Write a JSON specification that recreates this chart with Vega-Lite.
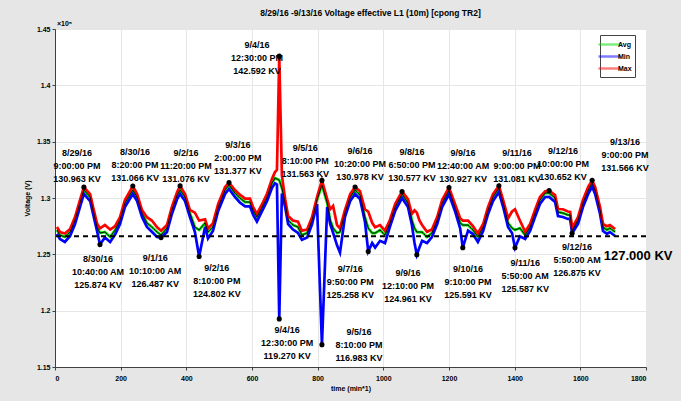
{
  "$schema": "https://vega.github.io/schema/vega-lite/v6.json",
  "width": 591,
  "height": 338,
  "autosize": "none",
  "padding": {"left": 55, "top": 29, "right": 35, "bottom": 34},
  "background": "#e6e6e6",
  "config": {
    "font": "Liberation Sans",
    "view": {"fill": "white", "stroke": null},
    "axis": {"domainColor": "#404040", "tickColor": "#404040", "gridColor": "#e6e6e6", "labelFontSize": 7, "labelFontWeight": "bold", "labelColor": "#000", "titleFontSize": 7, "titleFontWeight": "bold", "titleColor": "#000", "tickSize": 3}
  },
  "title": {"text": "8/29/16 -9/13/16  Voltage effective L1 (10m) [cpong TR2]", "fontSize": 8.5, "fontWeight": "bold", "dx": 20, "offset": 3, "color": "#000"},
  "datasets": {
    "series": [
      {"x":6,"Avg":1.2716,"Min":1.2681,"Max":1.2743},
      {"x":15,"Avg":1.2671,"Min":1.2636,"Max":1.2698},
      {"x":30,"Avg":1.2654,"Min":1.2610,"Max":1.2685},
      {"x":46,"Avg":1.2698,"Min":1.2663,"Max":1.2725},
      {"x":61,"Avg":1.2804,"Min":1.2769,"Max":1.2831},
      {"x":76,"Avg":1.2955,"Min":1.2920,"Max":1.2982},
      {"x":88,"Avg":1.3071,"Min":1.3036,"Max":1.30963},
      {"x":107,"Avg":1.3008,"Min":1.2973,"Max":1.3035},
      {"x":116,"Avg":1.2893,"Min":1.2858,"Max":1.2920},
      {"x":128,"Avg":1.2742,"Min":1.2707,"Max":1.2775},
      {"x":137,"Avg":1.2689,"Min":1.25874,"Max":1.2730},
      {"x":152,"Avg":1.2698,"Min":1.2650,"Max":1.2760},
      {"x":168,"Avg":1.2654,"Min":1.2610,"Max":1.2720},
      {"x":183,"Avg":1.2716,"Min":1.2675,"Max":1.2750},
      {"x":198,"Avg":1.2804,"Min":1.2769,"Max":1.2831},
      {"x":213,"Avg":1.2955,"Min":1.2920,"Max":1.2982},
      {"x":237,"Avg":1.3071,"Min":1.3036,"Max":1.31066},
      {"x":250,"Avg":1.3008,"Min":1.2973,"Max":1.3035},
      {"x":265,"Avg":1.2866,"Min":1.2831,"Max":1.2893},
      {"x":280,"Avg":1.2778,"Min":1.2743,"Max":1.2830},
      {"x":295,"Avg":1.2742,"Min":1.2700,"Max":1.2800},
      {"x":311,"Avg":1.2698,"Min":1.2655,"Max":1.2740},
      {"x":323,"Avg":1.2671,"Min":1.26487,"Max":1.2710},
      {"x":341,"Avg":1.2733,"Min":1.2698,"Max":1.2760},
      {"x":356,"Avg":1.2893,"Min":1.2858,"Max":1.2920},
      {"x":372,"Avg":1.3026,"Min":1.2991,"Max":1.3053},
      {"x":381,"Avg":1.3071,"Min":1.3036,"Max":1.31076},
      {"x":396,"Avg":1.3008,"Min":1.2973,"Max":1.3035},
      {"x":411,"Avg":1.2866,"Min":1.2831,"Max":1.2893},
      {"x":426,"Avg":1.2742,"Min":1.2700,"Max":1.2870},
      {"x":439,"Avg":1.2716,"Min":1.24802,"Max":1.2800},
      {"x":457,"Avg":1.2778,"Min":1.2743,"Max":1.2810},
      {"x":466,"Avg":1.2698,"Min":1.2640,"Max":1.2730},
      {"x":481,"Avg":1.2742,"Min":1.2707,"Max":1.2775},
      {"x":497,"Avg":1.2920,"Min":1.2885,"Max":1.2947},
      {"x":518,"Avg":1.3071,"Min":1.3036,"Max":1.3098},
      {"x":530,"Avg":1.3115,"Min":1.3080,"Max":1.31377},
      {"x":548,"Avg":1.3044,"Min":1.3009,"Max":1.3071},
      {"x":563,"Avg":1.3000,"Min":1.2960,"Max":1.3030},
      {"x":579,"Avg":1.2964,"Min":1.2925,"Max":1.2995},
      {"x":594,"Avg":1.2964,"Min":1.2925,"Max":1.2995},
      {"x":603,"Avg":1.2893,"Min":1.2855,"Max":1.2920},
      {"x":615,"Avg":1.2831,"Min":1.2790,"Max":1.2858},
      {"x":631,"Avg":1.2920,"Min":1.2885,"Max":1.2947},
      {"x":646,"Avg":1.3008,"Min":1.2973,"Max":1.3040},
      {"x":661,"Avg":1.3133,"Min":1.3090,"Max":1.3170},
      {"x":670,"Avg":1.3177,"Min":1.3130,"Max":1.3230},
      {"x":676,"Avg":1.3168,"Min":1.3120,"Max":1.3250},
      {"x":683,"Avg":1.3159,"Min":1.1927,"Max":1.42592},
      {"x":691,"Avg":1.3088,"Min":1.3040,"Max":1.3200},
      {"x":701,"Avg":1.2955,"Min":1.2920,"Max":1.2990},
      {"x":710,"Avg":1.2804,"Min":1.2769,"Max":1.2840},
      {"x":725,"Avg":1.2760,"Min":1.2720,"Max":1.2800},
      {"x":740,"Avg":1.2742,"Min":1.2690,"Max":1.2790},
      {"x":752,"Avg":1.2671,"Min":1.2630,"Max":1.2710},
      {"x":768,"Avg":1.2689,"Min":1.2650,"Max":1.2720},
      {"x":783,"Avg":1.2804,"Min":1.2769,"Max":1.2831},
      {"x":798,"Avg":1.2982,"Min":1.2947,"Max":1.3009},
      {"x":813,"Avg":1.3115,"Min":1.16983,"Max":1.31563},
      {"x":829,"Avg":1.2955,"Min":1.2920,"Max":1.2990},
      {"x":838,"Avg":1.2804,"Min":1.2769,"Max":1.2900},
      {"x":847,"Avg":1.2733,"Min":1.2690,"Max":1.2930},
      {"x":859,"Avg":1.2689,"Min":1.2580,"Max":1.2760},
      {"x":868,"Avg":1.2698,"Min":1.2515,"Max":1.2730},
      {"x":883,"Avg":1.2866,"Min":1.2831,"Max":1.2893},
      {"x":899,"Avg":1.3008,"Min":1.2973,"Max":1.3035},
      {"x":914,"Avg":1.3071,"Min":1.3036,"Max":1.30978},
      {"x":929,"Avg":1.3026,"Min":1.2991,"Max":1.3060},
      {"x":944,"Avg":1.2831,"Min":1.2790,"Max":1.2900},
      {"x":954,"Avg":1.2733,"Min":1.25258,"Max":1.2880},
      {"x":966,"Avg":1.2689,"Min":1.2600,"Max":1.2780},
      {"x":975,"Avg":1.2689,"Min":1.2560,"Max":1.2740},
      {"x":990,"Avg":1.2716,"Min":1.2620,"Max":1.2760},
      {"x":1005,"Avg":1.2671,"Min":1.2600,"Max":1.2710},
      {"x":1020,"Avg":1.2778,"Min":1.2743,"Max":1.2805},
      {"x":1036,"Avg":1.2920,"Min":1.2885,"Max":1.2947},
      {"x":1057,"Avg":1.3035,"Min":1.3000,"Max":1.30577},
      {"x":1075,"Avg":1.2955,"Min":1.2920,"Max":1.2990},
      {"x":1087,"Avg":1.2804,"Min":1.2760,"Max":1.2860},
      {"x":1095,"Avg":1.2733,"Min":1.2600,"Max":1.2890},
      {"x":1102,"Avg":1.2698,"Min":1.24961,"Max":1.2870},
      {"x":1110,"Avg":1.2698,"Min":1.2560,"Max":1.2800},
      {"x":1118,"Avg":1.2698,"Min":1.2620,"Max":1.2760},
      {"x":1133,"Avg":1.2654,"Min":1.2600,"Max":1.2700},
      {"x":1148,"Avg":1.2689,"Min":1.2654,"Max":1.2720},
      {"x":1164,"Avg":1.2804,"Min":1.2769,"Max":1.2831},
      {"x":1179,"Avg":1.2955,"Min":1.2920,"Max":1.2982},
      {"x":1200,"Avg":1.3068,"Min":1.3033,"Max":1.30927},
      {"x":1218,"Avg":1.2920,"Min":1.2885,"Max":1.2950},
      {"x":1234,"Avg":1.2778,"Min":1.2730,"Max":1.2820},
      {"x":1242,"Avg":1.2760,"Min":1.25591,"Max":1.2800},
      {"x":1258,"Avg":1.2760,"Min":1.2710,"Max":1.2800},
      {"x":1273,"Avg":1.2716,"Min":1.2680,"Max":1.2750},
      {"x":1288,"Avg":1.2654,"Min":1.2610,"Max":1.2685},
      {"x":1304,"Avg":1.2742,"Min":1.2707,"Max":1.2769},
      {"x":1319,"Avg":1.2893,"Min":1.2858,"Max":1.2920},
      {"x":1334,"Avg":1.3008,"Min":1.2973,"Max":1.3035},
      {"x":1352,"Avg":1.3088,"Min":1.3053,"Max":1.31081},
      {"x":1365,"Avg":1.2955,"Min":1.2920,"Max":1.2982},
      {"x":1380,"Avg":1.2778,"Min":1.2740,"Max":1.2820},
      {"x":1392,"Avg":1.2733,"Min":1.2690,"Max":1.2880},
      {"x":1401,"Avg":1.2716,"Min":1.25587,"Max":1.2900},
      {"x":1416,"Avg":1.2733,"Min":1.2660,"Max":1.2800},
      {"x":1432,"Avg":1.2671,"Min":1.2636,"Max":1.2700},
      {"x":1447,"Avg":1.2742,"Min":1.2707,"Max":1.2769},
      {"x":1462,"Avg":1.2866,"Min":1.2831,"Max":1.2893},
      {"x":1477,"Avg":1.2982,"Min":1.2947,"Max":1.3009},
      {"x":1493,"Avg":1.3044,"Min":1.3009,"Max":1.3060},
      {"x":1505,"Avg":1.3045,"Min":1.3010,"Max":1.30652},
      {"x":1523,"Avg":1.3000,"Min":1.2965,"Max":1.3027},
      {"x":1532,"Avg":1.2875,"Min":1.2840,"Max":1.2902},
      {"x":1547,"Avg":1.2866,"Min":1.2831,"Max":1.2900},
      {"x":1562,"Avg":1.2849,"Min":1.2814,"Max":1.2880},
      {"x":1569,"Avg":1.2849,"Min":1.2814,"Max":1.2876},
      {"x":1575,"Avg":1.2707,"Min":1.26875,"Max":1.2734},
      {"x":1593,"Avg":1.2804,"Min":1.2769,"Max":1.2831},
      {"x":1608,"Avg":1.2955,"Min":1.2920,"Max":1.2982},
      {"x":1624,"Avg":1.3071,"Min":1.3036,"Max":1.3098},
      {"x":1636,"Avg":1.3135,"Min":1.3100,"Max":1.31566},
      {"x":1645,"Avg":1.3071,"Min":1.3036,"Max":1.3098},
      {"x":1660,"Avg":1.2893,"Min":1.2858,"Max":1.2920},
      {"x":1669,"Avg":1.2742,"Min":1.2707,"Max":1.2769},
      {"x":1681,"Avg":1.2716,"Min":1.2681,"Max":1.2750},
      {"x":1690,"Avg":1.2733,"Min":1.2698,"Max":1.2760},
      {"x":1706,"Avg":1.2698,"Min":1.2663,"Max":1.2725}
    ],
    "dots": [
      {"x":88,"v":1.30963},{"x":237,"v":1.31066},{"x":381,"v":1.31076},{"x":530,"v":1.31377},
      {"x":683,"v":1.42592},{"x":813,"v":1.31563},{"x":914,"v":1.30978},{"x":1057,"v":1.30577},
      {"x":1200,"v":1.30927},{"x":1352,"v":1.31081},{"x":1505,"v":1.30652},{"x":1636,"v":1.31566},
      {"x":137,"v":1.25874},{"x":323,"v":1.26487},{"x":439,"v":1.24802},{"x":683,"v":1.1927},
      {"x":813,"v":1.16983},{"x":954,"v":1.25258},{"x":1102,"v":1.24961},{"x":1242,"v":1.25591},
      {"x":1401,"v":1.25587},{"x":1575,"v":1.26875}
    ],
    "labels": [
      {"x":67,"y":1.3434,"t":"8/29/16|9:00:00 PM|130.963 KV"},
      {"x":244,"y":1.3443,"t":"8/30/16|8:20:00 PM|131.066 KV"},
      {"x":399,"y":1.3434,"t":"9/2/16|11:20:00 PM|131.076 KV"},
      {"x":557,"y":1.3505,"t":"9/3/16|2:00:00 PM|131.377 KV"},
      {"x":615,"y":1.4393,"t":"9/4/16|12:30:00 PM|142.592 KV"},
      {"x":762,"y":1.3479,"t":"9/5/16|8:10:00 PM|131.563 KV"},
      {"x":929,"y":1.3452,"t":"9/6/16|10:20:00 PM|130.978 KV"},
      {"x":1087,"y":1.3443,"t":"9/8/16|6:50:00 PM|130.577 KV"},
      {"x":1243,"y":1.3434,"t":"9/9/16|12:40:00 AM|130.927 KV"},
      {"x":1407,"y":1.3434,"t":"9/11/16|9:00:00 PM|131.081 KV"},
      {"x":1547,"y":1.3452,"t":"9/12/16|10:00:00 PM|130.652 KV"},
      {"x":1736,"y":1.3532,"t":"9/13/16|9:00:00 PM|131.566 KV"},
      {"x":131,"y":1.2494,"t":"8/30/16|10:40:00 AM|125.874 KV"},
      {"x":305,"y":1.2503,"t":"9/1/16|10:10:00 AM|126.487 KV"},
      {"x":493,"y":1.2414,"t":"9/2/16|8:10:00 PM|124.802 KV"},
      {"x":707,"y":1.1864,"t":"9/4/16|12:30:00 PM|119.270 KV"},
      {"x":926,"y":1.1846,"t":"9/5/16|8:10:00 PM|116.983 KV"},
      {"x":899,"y":1.2405,"t":"9/7/16|9:50:00 PM|125.258 KV"},
      {"x":1075,"y":1.2370,"t":"9/9/16|12:10:00 PM|124.961 KV"},
      {"x":1258,"y":1.2405,"t":"9/10/16|9:10:00 PM|125.591 KV"},
      {"x":1432,"y":1.2458,"t":"9/11/16|5:50:00 AM|125.587 KV"},
      {"x":1590,"y":1.2600,"t":"9/12/16|5:50:00 AM|126.875 KV"}
    ],
    "ref": [{"v":1.266,"x":1776,"y":1.2485,"t":"127.000 KV","tx":0,"ty":1.45,"e":"×10⁵"}]
  },
  "layer": [
    {
      "data": {"name": "series"},
      "transform": [{"fold": ["Avg", "Min", "Max"], "as": ["series", "value"]}],
      "mark": {"type": "line", "strokeWidth": 2.7},
      "encoding": {
        "x": {"field": "x", "type": "quantitative", "scale": {"domain": [0, 1800], "nice": false}, "axis": {"values": [0,200,400,600,800,1000,1200,1400,1600,1800], "format": "d", "title": "time (min*1)", "labelPadding": 4, "titlePadding": 3}},
        "y": {"field": "value", "type": "quantitative", "scale": {"domain": [1.15, 1.45], "nice": false, "zero": false}, "axis": {"values": [1.15,1.2,1.25,1.3,1.35,1.4,1.45], "format": "~g", "title": "Voltage (V)", "labelPadding": 2, "titlePadding": 6}},
        "color": {"field": "series", "type": "nominal", "scale": {"domain": ["Avg", "Min", "Max"], "range": ["#00dd00", "#0000ff", "#ff0000"]},
          "legend": {"title": null, "orient": "none", "legendX": 545, "legendY": 6, "symbolType": "M-2.2,0H2.2", "symbolSize": 100, "symbolStrokeWidth": 2.5, "labelFontSize": 7, "labelFontWeight": "bold", "labelColor": "#000", "labelOffset": 2, "fillColor": "white", "strokeColor": "#444", "padding": 3, "rowPadding": 0, "symbolOpacity": 0.5}}
      }
    },
    {
      "data": {"name": "series"},
      "mark": {"type": "line", "color": "black", "strokeWidth": 0.9},
      "encoding": {"x": {"field": "x", "type": "quantitative"}, "y": {"field": "Avg", "type": "quantitative"}}
    },
    {
      "data": {"name": "ref"},
      "mark": {"type": "rule", "color": "black", "strokeWidth": 2, "strokeDash": [5, 4]},
      "encoding": {"y": {"field": "v", "type": "quantitative"}}
    },
    {
      "data": {"name": "dots"},
      "mark": {"type": "circle", "color": "black", "opacity": 1, "size": 26},
      "encoding": {"x": {"field": "x", "type": "quantitative"}, "y": {"field": "v", "type": "quantitative"}}
    },
    {
      "data": {"name": "labels"},
      "mark": {"type": "text", "fontSize": 9, "fontWeight": "bold", "lineBreak": "|", "lineHeight": 13, "baseline": "top", "align": "center", "color": "black"},
      "encoding": {"x": {"field": "x", "type": "quantitative"}, "y": {"field": "y", "type": "quantitative"}, "text": {"field": "t"}}
    },
    {
      "data": {"name": "ref"},
      "mark": {"type": "text", "fontSize": 13, "fontWeight": "bold", "align": "center", "baseline": "middle", "color": "black", "clip": false},
      "encoding": {"x": {"field": "x", "type": "quantitative"}, "y": {"field": "y", "type": "quantitative"}, "text": {"field": "t"}}
    },
    {
      "data": {"name": "ref"},
      "mark": {"type": "text", "fontSize": 7, "fontWeight": "bold", "align": "left", "baseline": "middle", "dx": 2, "dy": -5, "color": "black"},
      "encoding": {"x": {"field": "tx", "type": "quantitative"}, "y": {"field": "ty", "type": "quantitative"}, "text": {"field": "e"}}
    }
  ]
}
